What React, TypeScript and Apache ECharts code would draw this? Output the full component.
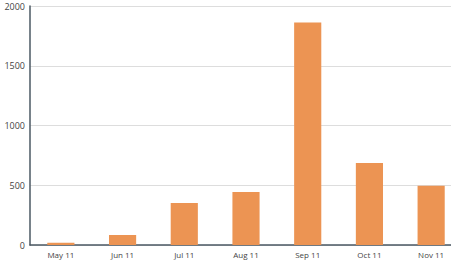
import React, { useEffect, useRef } from "react";
import * as echarts from "echarts";

const categories = ["May 11", "Jun 11", "Jul 11", "Aug 11", "Sep 11", "Oct 11", "Nov 11"];
const values = [18, 83, 352, 443, 1862, 686, 496];
const yTicks = [0, 500, 1000, 1500, 2000];

export default function App() {
  const ref = useRef<HTMLDivElement>(null);
  useEffect(() => {
    const chart = echarts.init(ref.current!, null, { renderer: "svg" });
    chart.setOption({
      animation: false,
      grid: { left: 30, right: 0, top: 6, bottom: 17, containLabel: false },
      xAxis: {
        type: "category",
        data: categories,
        axisLine: { lineStyle: { color: "#4b5863", width: 1.5 } },
        axisTick: { show: false },
        axisLabel: { color: "#444", fontSize: 8, fontFamily: "Open Sans", margin: 5 },
      },
      yAxis: {
        type: "value",
        min: yTicks[0],
        max: yTicks[yTicks.length - 1],
        interval: 500,
        axisLine: { show: true, lineStyle: { color: "#4b5863", width: 1.5 } },
        axisTick: { show: false },
        splitLine: { lineStyle: { color: "#dddddd" } },
        axisLabel: {
          color: "#444",
          fontSize: 9,
          fontFamily: "Open Sans",
          margin: 5,
          formatter: (v: number) => String(v),
        },
      },
      series: [
        {
          type: "bar",
          data: values,
          barWidth: "44%",
          itemStyle: { color: "#ec9453" },
        },
      ],
    });
    return () => chart.dispose();
  }, []);
  return (
    <div style={{ width: 451, height: 262, position: "absolute", left: 0, top: 0, overflow: "hidden" }}>
      <div ref={ref} style={{ width: 462, height: 262 }} />
    </div>
  );
}
